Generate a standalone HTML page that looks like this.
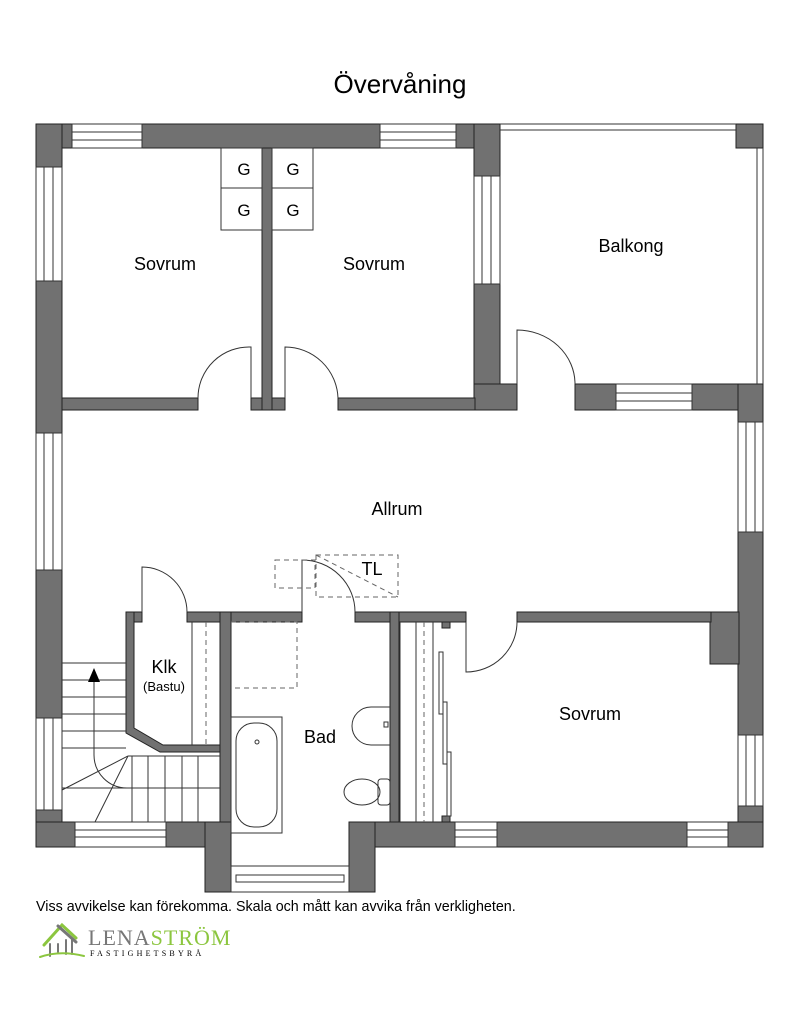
<!DOCTYPE html>
<html><head><meta charset="utf-8"><style>
html,body{margin:0;padding:0;background:#fff;}
svg{display:block;}
text{font-family:"Liberation Sans",Arial,sans-serif;fill:#000;}
</style></head><body>
<svg width="800" height="1030" viewBox="0 0 800 1030" xmlns="http://www.w3.org/2000/svg">
<text x="400" y="93" font-size="26" text-anchor="middle">Övervåning</text>
<g fill="#717171" stroke="#222" stroke-width="1">
<rect x="36" y="124" width="464" height="24"/>
<rect x="736" y="124" width="27" height="24"/>
<rect x="36" y="124" width="26" height="723"/>
<rect x="474" y="124" width="26" height="286"/>
<rect x="474" y="384" width="43" height="26"/>
<rect x="575" y="384" width="188" height="26"/>
<rect x="738" y="384" width="25" height="463"/>
<rect x="710" y="612" width="29" height="52"/>
<rect x="62" y="398" width="136" height="12"/>
<rect x="251" y="398" width="34" height="12"/>
<rect x="338" y="398" width="137" height="12"/>
<rect x="262" y="148" width="10" height="262"/>
<rect x="126" y="612" width="16" height="10"/>
<rect x="187" y="612" width="115" height="10"/>
<rect x="355" y="612" width="111" height="10"/>
<rect x="517" y="612" width="194" height="10"/>
<path d="M126,612 L134,612 L134,728 L163,745 L220,745 L220,752 L160,752 L126,733 Z"/>
<rect x="220" y="612" width="11" height="278"/>
<rect x="390" y="612" width="9" height="210"/>
<rect x="442" y="622" width="8" height="6"/>
<rect x="442" y="816" width="8" height="6"/>
<rect x="36" y="822" width="195" height="25"/>
<rect x="349" y="822" width="414" height="25"/>
<rect x="205" y="822" width="26" height="70"/>
<rect x="349" y="822" width="26" height="70"/>
</g>
<g fill="#fff" stroke="#333" stroke-width="1">
<rect x="72" y="124" width="70" height="24"/><rect x="72" y="132" width="70" height="8"/>
<rect x="380" y="124" width="76" height="24"/><rect x="380" y="132" width="76" height="8"/>
<rect x="36" y="167" width="26" height="114"/><rect x="44" y="167" width="9" height="114"/>
<rect x="36" y="433" width="26" height="137"/><rect x="44" y="433" width="9" height="137"/>
<rect x="36" y="718" width="26" height="92"/><rect x="44" y="718" width="9" height="92"/>
<rect x="474" y="176" width="26" height="108"/><rect x="482" y="176" width="9" height="108"/>
<rect x="616" y="384" width="76" height="26"/><rect x="616" y="393" width="76" height="8"/>
<rect x="738" y="422" width="25" height="110"/><rect x="746" y="422" width="9" height="110"/>
<rect x="738" y="735" width="25" height="71"/><rect x="746" y="735" width="9" height="71"/>
<rect x="75" y="822" width="91" height="25"/><rect x="75" y="830" width="91" height="7"/>
<rect x="455" y="822" width="42" height="25"/><rect x="455" y="830" width="42" height="7"/>
<rect x="687" y="822" width="41" height="25"/><rect x="687" y="830" width="41" height="7"/>
<rect x="231" y="866" width="118" height="26"/><rect x="236" y="875" width="108" height="7"/>
</g>
<g fill="none" stroke="#333" stroke-width="1">
<path d="M500,124 L736,124 M500,130 L736,130 M763,148 L763,384 M757,148 L757,384"/>
<path d="M251,398 L251,347 A51,51 0 0 0 198,398"/>
<path d="M285,398 L285,347 A53,53 0 0 1 338,398"/>
<path d="M517,384 L517,330 A58,54 0 0 1 575,384"/>
<path d="M142,612 L142,567 A45,45 0 0 1 187,612"/>
<path d="M302,612 L302,560 A53,52 0 0 1 355,612"/>
<path d="M466,622 L466,672 A51,50 0 0 0 517,622"/>
<rect x="221" y="148" width="41" height="40"/><rect x="221" y="188" width="41" height="42"/>
<rect x="272" y="148" width="41" height="40"/><rect x="272" y="188" width="41" height="42"/>
<path d="M62,663 L126,663 M62,680 L126,680 M62,697 L126,697 M62,714 L126,714 M62,731 L126,731 M62,748 L126,748"/>
<path d="M128,756 L220,756 M62,788 L220,788 M132,756 L132,822 M148,756 L148,822 M165,756 L165,822 M182,756 L182,822 M198,756 L198,822 M128,756 L62,790 M128,756 L95,822"/>
<path d="M94,682 L94,755 A33,33 0 0 0 127,788"/>
<path d="M192,622 L192,745"/>
<path d="M416,622 L416,822 M433,622 L433,822"/>
<path d="M400,622 L400,822"/>
<rect x="439" y="652" width="4" height="62"/><rect x="443" y="702" width="4" height="62"/><rect x="447" y="752" width="4" height="64"/>
<rect x="231" y="717" width="51" height="116"/>
<rect x="236" y="723" width="41" height="104" rx="18"/>
<circle cx="257" cy="742" r="2"/>
<path d="M390,707 L371,707 A16,16 0 0 0 371,745 L390,745"/>
<rect x="384" y="722" width="4" height="5"/>
<ellipse cx="362" cy="792" rx="18" ry="13"/>
<rect x="378" y="779" width="12" height="26" rx="3"/>
</g>
<g fill="none" stroke="#666" stroke-width="1" stroke-dasharray="5,4">
<path d="M231,622 L297,622 L297,688 L231,688"/>
<path d="M206,622 L206,745"/>
<path d="M424,622 L424,822"/>
<rect x="275" y="560" width="40" height="28"/>
<rect x="316" y="555" width="82" height="42"/>
<path d="M316,555 L398,597"/>
</g>
<path d="M94,668 L88,682 L100,682 Z" fill="#000"/>
<text x="244" y="175" font-size="17" text-anchor="middle">G</text>
<text x="293" y="175" font-size="17" text-anchor="middle">G</text>
<text x="244" y="216" font-size="17" text-anchor="middle">G</text>
<text x="293" y="216" font-size="17" text-anchor="middle">G</text>
<text x="165" y="270" font-size="18" text-anchor="middle">Sovrum</text>
<text x="374" y="270" font-size="18" text-anchor="middle">Sovrum</text>
<text x="631" y="252" font-size="18" text-anchor="middle">Balkong</text>
<text x="397" y="515" font-size="18" text-anchor="middle">Allrum</text>
<text x="372" y="575" font-size="18" text-anchor="middle">TL</text>
<text x="164" y="673" font-size="18" text-anchor="middle">Klk</text>
<text x="164" y="691" font-size="13" text-anchor="middle">(Bastu)</text>
<text x="320" y="743" font-size="18" text-anchor="middle">Bad</text>
<text x="590" y="720" font-size="18" text-anchor="middle">Sovrum</text>
<text x="36" y="911" font-size="14.3">Viss avvikelse kan förekomma. Skala och mått kan avvika från verkligheten.</text>
<g fill="none" stroke-linecap="round">
<path d="M44,945 L62,925 L76,938" stroke="#8cc63f" stroke-width="3"/>
<path d="M58,926 L76,942" stroke="#777" stroke-width="3"/>
<path d="M50,944 L50,956 M58,944 L58,952 M66,940 L66,954 M72,940 L72,954" stroke="#777" stroke-width="2"/>
<path d="M40,957 Q60,950 84,956" stroke="#8cc63f" stroke-width="2"/>
</g>
<text x="88" y="945" font-size="22" style="font-family:'Liberation Serif',serif;letter-spacing:1px" fill="#777"><tspan fill="#777">LENA</tspan><tspan fill="#8cc63f">STRÖM</tspan></text>
<text x="90" y="956" font-size="8" style="font-family:'Liberation Serif',serif;letter-spacing:3.2px" fill="#8cc63f">FASTIGHETSBYRÅ</text>
</svg>
</body></html>
